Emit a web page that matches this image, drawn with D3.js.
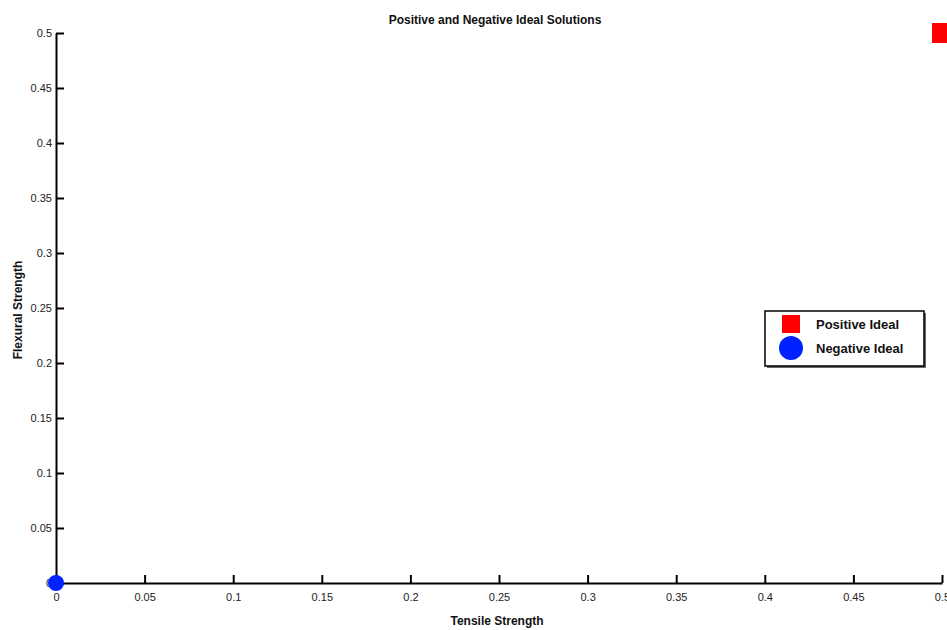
<!DOCTYPE html>
<html>
<head>
<meta charset="utf-8">
<script src="https://cdn.jsdelivr.net/npm/d3@7"></script>
<style>
  body { margin: 0; background: #fff; }
  svg { display: block; font-family: "Liberation Sans", Arial, sans-serif; }
</style>
</head>
<body>
<svg id="chart" width="947" height="630"></svg>
<script>
// data
var seriesNames = ["Positive Ideal", "Negative Ideal"];
var tensile = [0.5, 0];
var flexural = [0.5, 0];
var tickValues = [0, 0.05, 0.1, 0.15, 0.2, 0.25, 0.3, 0.35, 0.4, 0.45, 0.5];

var svg = d3.select("#chart");
var x = d3.scaleLinear().domain([0, 0.5]).range([56, 942]);
var y = d3.scaleLinear().domain([0, 0.5]).range([583, 33]);

var fmt = function(d) { return d === 0 ? "0" : String(+d.toFixed(2)); };

// x axis, ticks pointing inward
var xAxis = svg.append("g")
  .attr("transform", "translate(0," + y(0) + ")")
  .call(d3.axisBottom(x).tickValues(tickValues).tickFormat(fmt).tickSizeInner(-8).tickSizeOuter(0).tickPadding(12));
xAxis.select(".domain").attr("stroke", "#000").attr("stroke-width", 2);
xAxis.selectAll(".tick line").attr("stroke-width", 2);
xAxis.selectAll("text").attr("font-size", 11).attr("fill", "#222").attr("dy", "0.55em");

var yAxis = svg.append("g")
  .attr("transform", "translate(" + x(0) + ",0)")
  .call(d3.axisLeft(y).tickValues(tickValues).tickFormat(fmt).tickSizeInner(-8).tickSizeOuter(0).tickPadding(4));
yAxis.select(".domain").attr("stroke", "#000").attr("stroke-width", 2);
yAxis.selectAll(".tick line").attr("stroke-width", 2);
yAxis.selectAll("text").attr("font-size", 11).attr("fill", "#222");

// titles
svg.append("text").attr("x", 495).attr("y", 24).attr("text-anchor", "middle")
  .attr("font-size", 12).attr("font-weight", "bold").attr("fill", "#111")
  .text("Positive and Negative Ideal Solutions");
svg.append("text").attr("x", 497).attr("y", 625).attr("text-anchor", "middle")
  .attr("font-size", 12).attr("font-weight", "bold").attr("fill", "#111")
  .text("Tensile Strength");
svg.append("text").attr("transform", "translate(22,310) rotate(-90)").attr("text-anchor", "middle")
  .attr("font-size", 12).attr("font-weight", "bold").attr("fill", "#111")
  .text("Flexural Strength");

// marks
var sq = 20;
svg.append("rect")
  .attr("x", x(tensile[0]) - sq / 2).attr("y", y(flexural[0]) - sq / 2)
  .attr("width", sq).attr("height", sq).attr("fill", "#ff0000");
svg.append("circle")
  .attr("cx", x(tensile[1])).attr("cy", y(flexural[1])).attr("r", 8)
  .attr("fill", "#0022ff");

// legend
var lg = svg.append("g").attr("transform", "translate(765,311)");
lg.append("rect").attr("x", 2).attr("y", 2).attr("width", 159).attr("height", 55).attr("fill", "#666");
lg.append("rect").attr("width", 159).attr("height", 55).attr("fill", "#fff").attr("stroke", "#000").attr("stroke-width", 1.5);
lg.append("rect").attr("x", 17).attr("y", 4).attr("width", 18).attr("height", 18).attr("fill", "#ff0000");
lg.append("circle").attr("cx", 26).attr("cy", 37).attr("r", 12).attr("fill", "#0022ff");
lg.selectAll("text.lbl").data(seriesNames).enter().append("text")
  .attr("class", "lbl")
  .attr("x", 51).attr("y", function(d, i) { return 18 + i * 24; })
  .attr("font-size", 13).attr("font-weight", "bold").attr("fill", "#111")
  .text(function(d) { return d; });
</script>
</body>
</html>
